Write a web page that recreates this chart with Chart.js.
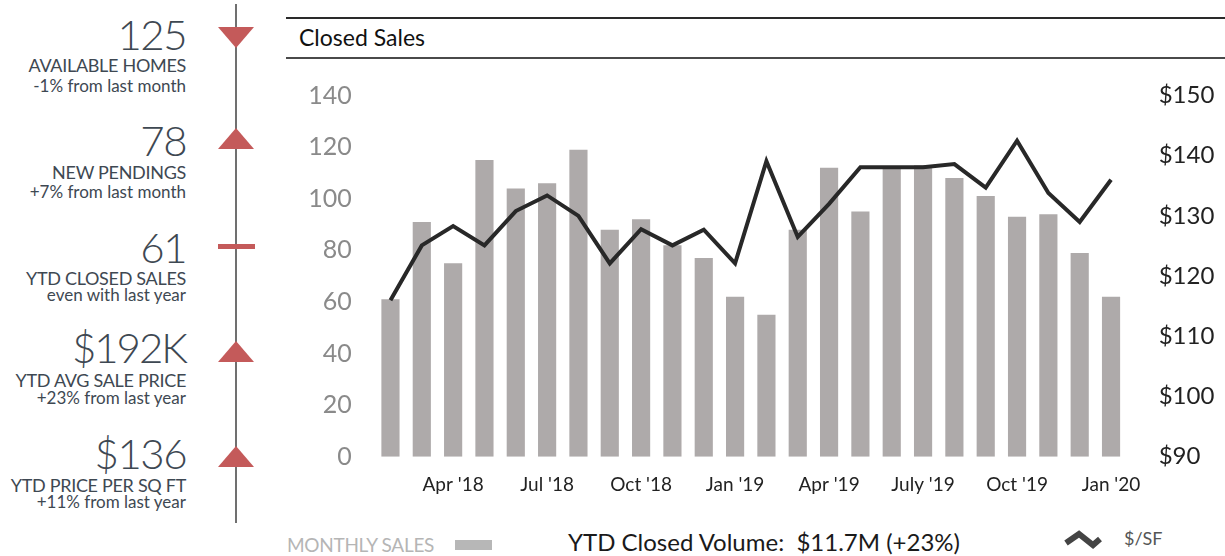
<!DOCTYPE html>
<html>
<head>
<meta charset="utf-8">
<script src="https://cdn.jsdelivr.net/npm/chart.js@4.4.1/dist/chart.umd.min.js"></script>
<style>
    body { margin: 0; width: 1225px; height: 556px; background: #fff; position: relative; overflow: hidden; font-family: Lato, sans-serif; }
    .abs { position: absolute; }
    .stat { position: absolute; left: 0; width: 186px; text-align: right; color: #3e4852; line-height: 1; white-space: nowrap; }
    .big { font-size: 42px; font-weight: 300; letter-spacing: -1.5px; }
    .name { font-size: 18px; letter-spacing: -0.3px; }
    .sub { font-size: 17px; }
    .tri { position: absolute; left: 218px; width: 0; height: 0; border-left: 18.5px solid transparent; border-right: 18.5px solid transparent; }
    .down { border-top: 21px solid #c45a5a; }
    .up { border-bottom: 21px solid #c45a5a; }
    #chartBox { position: absolute; left: 280px; top: 60px; width: 945px; height: 450px; }
</style>
</head>
<body>
    <!-- left stats panel -->
    <div class="abs" style="left:235px; top:4px; width:2px; height:519px; background:#707070;"></div>

    <div class="stat big" style="top:13px;">125</div>
    <div class="stat name" style="top:56px;">AVAILABLE HOMES</div>
    <div class="stat sub" style="top:77px;">-1% from last month</div>
    <div class="tri down" style="top:27px;"></div>

    <div class="stat big" style="top:119px;">78</div>
    <div class="stat name" style="top:163px;">NEW PENDINGS</div>
    <div class="stat sub" style="top:183px;">+7% from last month</div>
    <div class="tri up" style="top:128px;"></div>

    <div class="stat big" style="top:226px;">61</div>
    <div class="stat name" style="top:269px;">YTD CLOSED SALES</div>
    <div class="stat sub" style="top:286px;">even with last year</div>
    <div class="abs" style="left:218px; top:244px; width:37px; height:5px; background:#c45a5a;"></div>

    <div class="stat big" style="top:326px; letter-spacing:-2px;">$192K</div>
    <div class="stat name" style="top:371px;">YTD AVG SALE PRICE</div>
    <div class="stat sub" style="top:389px;">+23% from last year</div>
    <div class="tri up" style="top:341px;"></div>

    <div class="stat big" style="top:432px;">$136</div>
    <div class="stat name" style="top:476px;">YTD PRICE PER SQ FT</div>
    <div class="stat sub" style="top:493px;">+11% from last year</div>
    <div class="tri up" style="top:446px;"></div>

    <!-- header -->
    <div class="abs" style="left:286px; top:17px; width:939px; height:2px; background:#2a2a2a;"></div>
    <div class="abs" style="left:299px; top:26px; font-size:23px; color:#111; line-height:1;">Closed Sales</div>
    <div class="abs" style="left:286px; top:57px; width:939px; height:2px; background:#4a4a4a;"></div>

    <div id="chartBox"><canvas id="salesChart"></canvas></div>

    <!-- legend / footer -->
    <div class="abs" style="left:287px; top:535px; font-size:19px; color:#b5b5b5; line-height:1; letter-spacing:-0.3px;">MONTHLY SALES</div>
    <div class="abs" style="left:455px; top:540px; width:37px; height:10px; background:#b7b7b7;"></div>
    <div class="abs" style="left:568px; top:530px; font-size:24px; color:#1a1a1a; line-height:1;">YTD Closed Volume:&nbsp; $11.7M (+23%)</div>
    <svg class="abs" style="left:1060px; top:525px;" width="50" height="30">
        <polyline points="6,18 19,9 33,20 40,14" fill="none" stroke="#444" stroke-width="6" stroke-linejoin="miter"/>
    </svg>
    <div class="abs" style="left:1124px; top:529px; font-size:18px; color:#555; line-height:1;">$/SF</div>

<script>
// 24 months, Feb 2018 - Jan 2020
const months = [
    'Feb 2018', 'Mar 2018', 'Apr 2018', 'May 2018', 'Jun 2018', 'Jul 2018',
    'Aug 2018', 'Sep 2018', 'Oct 2018', 'Nov 2018', 'Dec 2018', 'Jan 2019',
    'Feb 2019', 'Mar 2019', 'Apr 2019', 'May 2019', 'Jun 2019', 'Jul 2019',
    'Aug 2019', 'Sep 2019', 'Oct 2019', 'Nov 2019', 'Dec 2019', 'Jan 2020'
];
// shown every third month, starting at Apr 2018
const tickLabels = ["Apr '18", "Jul '18", "Oct '18", "Jan '19", "Apr '19", "July '19", "Oct '19", "Jan '20"];

const monthlySales = [61, 91, 75, 115, 104, 106, 119, 88, 92, 82, 77, 62,
                      55, 88, 112, 95, 112, 113, 108, 101, 93, 94, 79, 62];
const pricePerSqFt = [116.0, 125.1, 128.3, 125.1, 130.8, 133.4, 130.0, 122.1, 127.8, 125.1, 127.7, 122.1,
                      139.1, 126.5, 132.0, 138.1, 138.1, 138.1, 138.6, 134.7, 142.5, 133.8, 129.0, 136.0];

const salesTicks = { min: 0, max: 140, step: 20 };
const priceTicks = { min: 90, max: 150, step: 10 };

// fixed axis width; keep the tick padding from pushing the plot area down
function fixWidth(w) {
    return scale => {
        scale.width = w;
        scale.paddingTop = 10;
        scale.paddingBottom = 10;
    };
}

const ctx = document.getElementById('salesChart').getContext('2d');
new Chart(ctx, {
    data: {
        labels: months,
        datasets: [
            {
                type: 'line',
                label: '$/SF',
                data: pricePerSqFt,
                yAxisID: 'yPrice',
                borderColor: '#282828',
                borderWidth: 4,
                borderJoinStyle: 'miter',
                pointRadius: 0,
                tension: 0,
                order: 0
            },
            {
                type: 'bar',
                label: 'Monthly Sales',
                data: monthlySales,
                yAxisID: 'ySales',
                backgroundColor: '#aeaaaa',
                categoryPercentage: 1,
                barPercentage: 0.58,
                order: 1
            }
        ]
    },
    options: {
        responsive: true,
        maintainAspectRatio: false,
        animation: false,
        layout: { padding: { top: 35.5, bottom: 0, left: 0, right: 0 } },
        plugins: {
            legend: { display: false },
            tooltip: { enabled: false }
        },
        scales: {
            x: {
                grid: { display: false, drawTicks: false },
                border: { display: false },
                afterFit: scale => { scale.height = 53.3; },
                ticks: {
                    autoSkip: false,
                    maxRotation: 0,
                    padding: 17,
                    color: '#222',
                    font: { family: 'Lato', size: 19 },
                    callback: (value, i) => (i % 3 === 2 ? tickLabels[(i - 2) / 3] : '')
                }
            },
            ySales: {
                position: 'left',
                min: salesTicks.min,
                max: salesTicks.max,
                grid: { display: false, drawTicks: false },
                border: { display: false },
                afterFit: fixWidth(94.8),
                ticks: {
                    stepSize: salesTicks.step,
                    padding: 23,
                    color: '#8a8a8a',
                    font: { family: 'Lato', size: 25 }
                }
            },
            yPrice: {
                position: 'right',
                min: priceTicks.min,
                max: priceTicks.max,
                grid: { display: false, drawTicks: false },
                border: { display: false },
                afterFit: fixWidth(98.3),
                ticks: {
                    stepSize: priceTicks.step,
                    padding: 32,
                    color: '#222',
                    font: { family: 'Lato', size: 24 },
                    callback: value => '$' + value
                }
            }
        }
    }
});
</script>
</body>
</html>
